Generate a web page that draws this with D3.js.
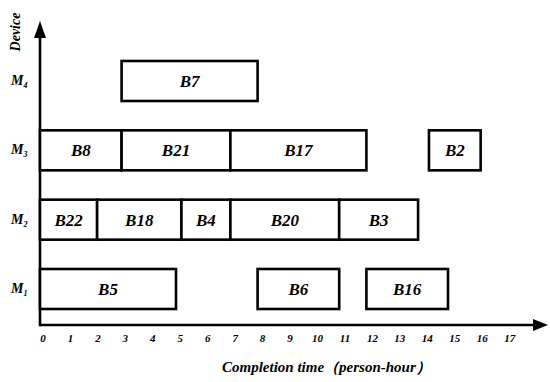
<!DOCTYPE html>
<html>
<head>
<meta charset="UTF-8">
<script src="https://d3js.org/d3.v7.min.js"></script>
</head>
<body style="margin:0">
<script>
// devices (lanes), bottom to top
var devices = [1, 2, 3, 4];
// jobs on each device: name, start, end (person-hour)
var jobNames  = ["B5", "B6", "B16", "B22", "B18", "B4", "B20", "B3", "B8", "B21", "B17", "B2", "B7"];
var jobDevice = [1, 1, 1, 2, 2, 2, 2, 2, 3, 3, 3, 3, 4];
var jobStart  = [0, 8, 12, 0, 2.1, 5.2, 7, 11, 0, 3, 7, 14.3, 3];
var jobEnd    = [5, 11, 15, 2.1, 5.2, 7, 11, 13.9, 3, 7, 12, 16.2, 8];
var tickValues = d3.range(0, 18);

var width = 550, height = 382;

var svg = d3.select("body").append("svg")
    .attr("width", width)
    .attr("height", height);

var x = d3.scaleLinear().domain([0, 17]).range([40, 502.4]);
var y = d3.scaleLinear().domain([1, 4]).range([289, 81]);
var barH = 40;
var axisY = 325;

// bold italic serif label
function label(px, py, txt, size) {
    return svg.append("text")
        .attr("x", px).attr("y", py)
        .style("font-family", "'Liberation Serif'")
        .style("font-weight", "bold")
        .style("font-style", "italic")
        .attr("font-size", size)
        .text(txt);
}

// axes with arrow heads
svg.append("line")
    .attr("x1", x(0)).attr("y1", axisY)
    .attr("x2", 536).attr("y2", axisY)
    .attr("stroke", "#000").attr("stroke-width", 2.6);
svg.append("path")
    .attr("d", "M548," + axisY + "L533," + (axisY - 6) + "L533," + (axisY + 6) + "Z")
    .attr("fill", "#000");
svg.append("line")
    .attr("x1", x(0)).attr("y1", axisY + 1.3)
    .attr("x2", x(0)).attr("y2", 34)
    .attr("stroke", "#000").attr("stroke-width", 2.6);
svg.append("path")
    .attr("d", "M" + x(0) + ",21L" + (x(0) - 6) + ",38L" + (x(0) + 6) + ",38Z")
    .attr("fill", "#000");

// bars
jobNames.forEach(function (n, i) {
    var x0 = x(jobStart[i]), x1 = x(jobEnd[i]), yc = y(jobDevice[i]);
    svg.append("rect")
        .attr("x", x0).attr("y", yc - barH / 2)
        .attr("width", x1 - x0).attr("height", barH)
        .attr("fill", "#fff").attr("stroke", "#000").attr("stroke-width", 2.6);
    label((x0 + x1) / 2, yc + 6, n, 17).attr("text-anchor", "middle");
});

// device labels
devices.forEach(function (d) {
    var t = label(11, y(d) + 4, "M", 14);
    t.append("tspan").attr("font-size", 8).attr("dy", 3).text(d);
});

// tick labels
tickValues.forEach(function (d) {
    label(x(d) + 3 + d * 0.25, 342, d, 11).attr("text-anchor", "middle");
});

// axis titles
label(222, 372, "Completion time（person-hour）", 15);
label(0, 0, "Device", 14)
    .attr("transform", "translate(20,32) rotate(-90)")
    .attr("text-anchor", "middle");
</script>
</body>
</html>
